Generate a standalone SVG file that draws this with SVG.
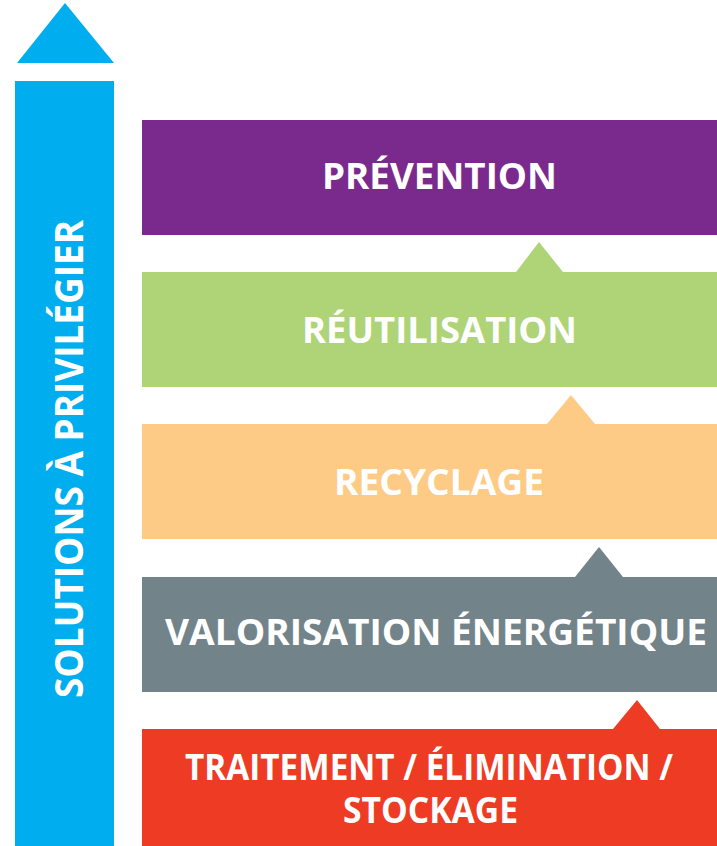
<svg xmlns="http://www.w3.org/2000/svg" width="717" height="846" viewBox="0 0 717 846">
<style>
.t{font-family:"Open Sans","Liberation Sans",sans-serif;font-weight:700;fill:#fff;font-size:36px}
.v{font-size:40px}
</style>
<rect width="717" height="846" fill="#fff"/>
<g id="axis">
<polygon points="65,3 114,63 17,63" fill="#00AEEF"/>
<rect x="15" y="81" width="99" height="765" fill="#00AEEF"/>
<text class="t v" transform="translate(83,698) rotate(-90)" textLength="478" lengthAdjust="spacingAndGlyphs">SOLUTIONS À PRIVILÉGIER</text>
</g>
<g id="connectors">
<polygon points="539,242 563,272 516,272" fill="#AED477"/>
<polygon points="571,395 595,424 547,424" fill="#FDCB85"/>
<polygon points="599,547 623,577 575,577" fill="#72838A"/>
<polygon points="637,700 660,729 613,729" fill="#EE3B24"/>
</g>
<g id="prevention">
<rect x="142" y="120" width="575" height="115" fill="#7A2A8D"/>
<text class="t" x="322" y="189" textLength="235" lengthAdjust="spacingAndGlyphs">PRÉVENTION</text>
</g>
<g id="reutilisation">
<rect x="142" y="272" width="575" height="115" fill="#AED477"/>
<text class="t" x="302" y="343" textLength="275" lengthAdjust="spacingAndGlyphs">RÉUTILISATION</text>
</g>
<g id="recyclage">
<rect x="142" y="424" width="575" height="115" fill="#FDCB85"/>
<text class="t" x="334" y="495" textLength="210" lengthAdjust="spacingAndGlyphs">RECYCLAGE</text>
</g>
<g id="valorisation">
<rect x="142" y="577" width="575" height="115" fill="#72838A"/>
<text class="t" x="165" y="645" textLength="542" lengthAdjust="spacingAndGlyphs">VALORISATION ÉNERGÉTIQUE</text>
</g>
<g id="traitement">
<rect x="142" y="729" width="575" height="117" fill="#EE3B24"/>
<text class="t" x="185" y="780" textLength="488" lengthAdjust="spacingAndGlyphs">TRAITEMENT / ÉLIMINATION /</text>
<text class="t" x="343" y="823" textLength="175" lengthAdjust="spacingAndGlyphs">STOCKAGE</text>
</g>
</svg>
